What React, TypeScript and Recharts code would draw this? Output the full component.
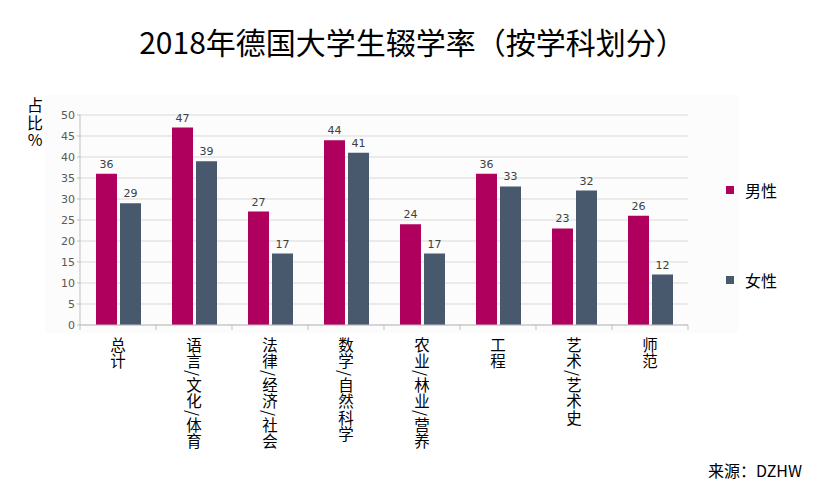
import React from 'react';
import { BarChart, Bar, XAxis, YAxis, CartesianGrid, LabelList } from 'recharts';

const categories = ['总计', '语言/文化/体育', '法律/经济/社会', '数学/自然科学', '农业/林业/营养', '工程', '艺术/艺术史', '师范'];
const maleValues = [36, 47, 27, 44, 24, 36, 23, 26];
const femaleValues = [29, 39, 17, 41, 17, 33, 32, 12];
const yTicks = [0, 5, 10, 15, 20, 25, 30, 35, 40, 45, 50];
const seriesNames = { male: '男性', female: '女性' };
const title = '2018年德国大学生辍学率（按学科划分）';
const yLabel = '占比%';
const source = '来源：DZHW';

const MALE = '#b0005e';
const FEMALE = '#48596e';
const FONT = '"Noto Sans CJK SC", "Noto Sans", sans-serif';
const NUMFONT = '"DejaVu Sans", sans-serif';

const data = categories.map((c, i) => ({ name: c, male: maleValues[i], female: femaleValues[i] }));

const W = 840;
const H = 496;
const Y_AXIS_W = 30;
const margin = { top: 115, right: 152, bottom: 41, left: 50 };
const bandW = (W - margin.left - Y_AXIS_W - margin.right) / categories.length;

const XTick = (props: any) => {
  const { x, y, payload, index } = props;
  const parts = String(payload.value).split('/');
  const spans: React.ReactNode[] = [];
  parts.forEach((p, i) => {
    if (i > 0) {
      spans.push(
        <tspan key={`s${i}`} style={{ textOrientation: 'sideways' as any }}>
          /
        </tspan>
      );
    }
    spans.push(<tspan key={`p${i}`}>{p}</tspan>);
  });
  return (
    <g>
      <line x1={x - bandW / 2} y1={y - 8} x2={x - bandW / 2} y2={y - 3} stroke="#bfbfbf" />
      {index === categories.length - 1 && (
        <line x1={x + bandW / 2} y1={y - 8} x2={x + bandW / 2} y2={y - 3} stroke="#bfbfbf" />
      )}
      <text
        x={x}
        y={y + 4}
        fontSize={15.5}
        fontFamily={FONT}
        fill="#000"
        style={{ writingMode: 'vertical-rl' as any, textOrientation: 'mixed' as any, letterSpacing: 1 }}
      >
        {spans}
      </text>
    </g>
  );
};

const legendItems = [
  { name: seriesNames.male, color: MALE },
  { name: seriesNames.female, color: FEMALE },
];

export default function App() {
  return (
    <div style={{ position: 'absolute', left: 0, top: 0, width: W, height: H, background: '#fff', fontFamily: FONT }}>
      <div style={{ position: 'absolute', left: 45, top: 95, width: 693, height: 238, background: '#fbfcfb' }} />
      <div
        style={{
          position: 'absolute',
          left: 0,
          top: 21,
          width: 825,
          textAlign: 'center',
          fontSize: 30,
          lineHeight: '40px',
          color: '#000',
        }}
      >
        {title}
      </div>
      <div
        style={{
          position: 'absolute',
          left: 25,
          top: 97,
          fontSize: 16,
          lineHeight: '20px',
          letterSpacing: 1.5,
          writingMode: 'vertical-rl',
          textOrientation: 'upright',
          color: '#000',
        }}
      >
        {yLabel}
      </div>
      <div style={{ position: 'absolute', left: 726, top: 178, fontSize: 16, color: '#000' }}>
        {legendItems.map((it, i) => (
          <div key={i} style={{ display: 'flex', alignItems: 'center', height: 24, marginBottom: i === 0 ? 66 : 0 }}>
            <span style={{ display: 'inline-block', width: 8, height: 8, background: it.color, marginRight: 11 }} />
            <span>{it.name}</span>
          </div>
        ))}
      </div>
      <div style={{ position: 'absolute', left: 708, top: 458, fontSize: 16, color: '#000' }}>{source}</div>
      <div style={{ position: 'absolute', left: 0, top: 0 }}>
        <BarChart width={W} height={H} data={data} margin={margin} barSize={21} barGap={3}>
          <CartesianGrid vertical={false} stroke="#d9d9d9" />
          <XAxis
            dataKey="name"
            interval={0}
            height={130}
            tickLine={false}
            axisLine={{ stroke: '#bfbfbf' }}
            tick={<XTick />}
          />
          <YAxis
            width={Y_AXIS_W}
            domain={[0, 50]}
            ticks={yTicks}
            interval={0}
            tickSize={3}
            tickLine={{ stroke: '#bfbfbf' }}
            axisLine={{ stroke: '#bfbfbf' }}
            tick={{ fontSize: 11, fill: '#595959', fontFamily: NUMFONT }}
          />
          <Bar dataKey="male" name={seriesNames.male} fill={MALE} isAnimationActive={false}>
            <LabelList dataKey="male" position="top" offset={6} fontSize={11} fill="#404040" fontFamily={NUMFONT} />
          </Bar>
          <Bar dataKey="female" name={seriesNames.female} fill={FEMALE} isAnimationActive={false}>
            <LabelList dataKey="female" position="top" offset={6} fontSize={11} fill="#404040" fontFamily={NUMFONT} />
          </Bar>
        </BarChart>
      </div>
    </div>
  );
}
